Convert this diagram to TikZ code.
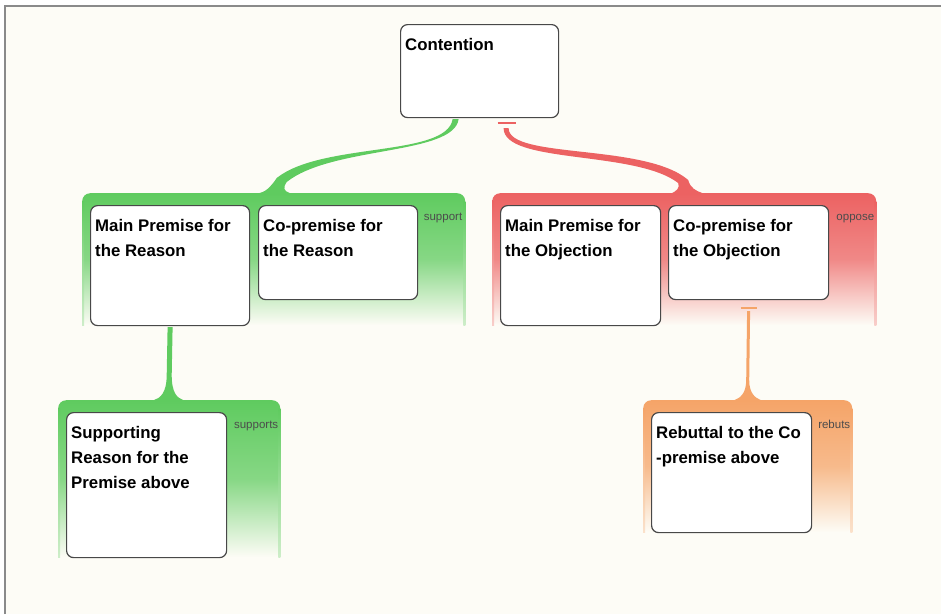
\documentclass[tikz,border=0pt]{standalone}
\usepackage{fontspec}
\setmainfont{Liberation Sans}
\usetikzlibrary{positioning}
\definecolor{paper}{HTML}{FDFCF6}
\definecolor{framegray}{HTML}{8A8A8A}
\definecolor{boxline}{HTML}{484848}
\definecolor{supgreen}{HTML}{5FCB5F}
\definecolor{oppred}{HTML}{EC6262}
\definecolor{rebut}{HTML}{F5A468}

\begin{document}
\begin{tikzpicture}[
    x=1pt, y=-1pt,
    claim/.style={
      draw=boxline,
      line width=1.2pt,
      fill=white,
      rounded corners=7pt,
      anchor=north west,
      inner sep=0pt
    },
    words/.style={
      anchor=north west,
      inner sep=0pt,
      align=left,
      font=\bfseries\fontsize{16.8}{25}\selectfont
    },
    grp/.style={
      anchor=north west,
      inner sep=0pt,
      rounded corners=8pt,
      top color=#1,
      bottom color=paper,
      middle color=#1!75!paper
    },
    kind/.style={
      anchor=base east,
      inner sep=0pt,
      text=black!70,
      font=\fontsize{11.5}{13}\selectfont
    }]

    % Helper macros.
    \def\claimbox#1#2#3#4#5{
      \node[claim,minimum width=#3,minimum height=#4] (#1) at (#2) {};
      \node[words] (#1-txt) at ([shift={(5,14)}] #1.north west) {#5};
    }
    \def\group#1#2#3#4#5{
      \node[grp=#5,minimum width=#3,minimum height=#4] (#1) at (#2) {};
      \shade[top color=#5,bottom color=#5!30!paper]
        ([shift={(0,8)}] #1.north west) rectangle ([shift={(2,0)}] #1.south west);
      \shade[top color=#5,bottom color=#5!30!paper]
        ([shift={(-2,8)}] #1.north east) rectangle (#1.south east);
    }

    % Draw the sheet.
    \useasboundingbox (0,0) rectangle (941,614);
    \fill[white] (0,0) rectangle (941,614);
    \fill[paper] (5,6) rectangle (941,614);
    \draw[framegray,line width=2pt] (5,614) -- (5,6) -- (941,6);

    % Draw the coloured groups.
    \group{reasonset}{82,193}{383pt}{132pt}{supgreen}
    \group{objectset}{492,193}{384pt}{132pt}{oppred}
    \group{backingset}{58,400}{222pt}{157pt}{supgreen}
    \group{rebuttalset}{643,400}{209pt}{132pt}{rebut}

    % Draw the claims.
    \claimbox{cont}{400,24}{158pt}{93pt}{Contention}
    \claimbox{mpr}{90,205}{159pt}{120pt}{Main Premise for\\the Reason}
    \claimbox{cpr}{258,205}{159pt}{94pt}{Co-premise for\\the Reason}
    \claimbox{mpo}{500,205}{160pt}{120pt}{Main Premise for\\the Objection}
    \claimbox{cpo}{668,205}{160pt}{94pt}{Co-premise for\\the Objection}
    \claimbox{srp}{66,412}{160pt}{145pt}{Supporting\\Reason for the\\Premise above}
    \claimbox{rcp}{651,412}{160pt}{120pt}{Rebuttal to the Co\\-premise above}

    % Draw the group kinds.
    \node[kind] (reasonset-kind) at ([shift={(-3,27)}] reasonset.north east) {support};
    \node[kind] (objectset-kind) at ([shift={(-2,27)}] objectset.north east) {oppose};
    \node[kind] (backingset-kind) at ([shift={(-2,28)}] backingset.north east) {supports};
    \node[kind] (rebuttalset-kind) at ([shift={(-2,28)}] rebuttalset.north east) {rebuts};

    % Draw the connectors.
    \fill[supgreen] ([shift={(-27,1)}] cont.south)
      .. controls +(-6,38) and +(45,-36) .. ([shift={(3,-15)}] reasonset.north)
      .. controls +(-4,6) and +(8,-2) .. ([shift={(-14,0)}] reasonset.north)
      -- ([shift={(16,0)}] reasonset.north)
      .. controls +(-6,-2) and +(-4,6) .. ([shift={(13,-11)}] reasonset.north)
      .. controls +(45,-36) and +(-5,36) .. ([shift={(-21,1)}] cont.south) -- cycle;
    \draw[oppred,line width=1.5pt] ([shift={(18,5)}] cont.south) -- ([shift={(36,5)}] cont.south);
    \fill[oppred] ([shift={(24,10)}] cont.south)
      .. controls +(0,36) and +(-43,-33) .. ([shift={(-6,-10)}] objectset.north)
      .. controls +(2,5) and +(4,-2) .. ([shift={(-12,0)}] objectset.north)
      -- ([shift={(18,0)}] objectset.north)
      .. controls +(-6,-2) and +(2,8) .. ([shift={(4,-13)}] objectset.north)
      .. controls +(-43,-37) and +(0,31) .. ([shift={(29,10)}] cont.south) -- cycle;
    \fill[supgreen] ([shift={(-2.5,1)}] mpr.south)
      -- ([shift={(-2.5,-25)}] backingset.north)
      .. controls +(0,18) and +(6,-2) .. ([shift={(-15,0)}] backingset.north)
      -- ([shift={(14,0)}] backingset.north)
      .. controls +(-6,-2) and +(0,18) .. ([shift={(2.5,-25)}] backingset.north)
      -- ([shift={(2.5,1)}] mpr.south) -- cycle;
    \draw[rebut,line width=1.5pt] ([shift={(-8,8)}] cpo.south) -- ([shift={(8,8)}] cpo.south);
    \fill[rebut] ([shift={(-1.5,11)}] cpo.south)
      -- ([shift={(-1.5,-20)}] rebuttalset.north)
      .. controls +(0,14) and +(5,-2) .. ([shift={(-13,0)}] rebuttalset.north)
      -- ([shift={(13,0)}] rebuttalset.north)
      .. controls +(-5,-2) and +(0,14) .. ([shift={(1.5,-20)}] rebuttalset.north)
      -- ([shift={(1.5,11)}] cpo.south) -- cycle;

  \end{tikzpicture}
\end{document}
